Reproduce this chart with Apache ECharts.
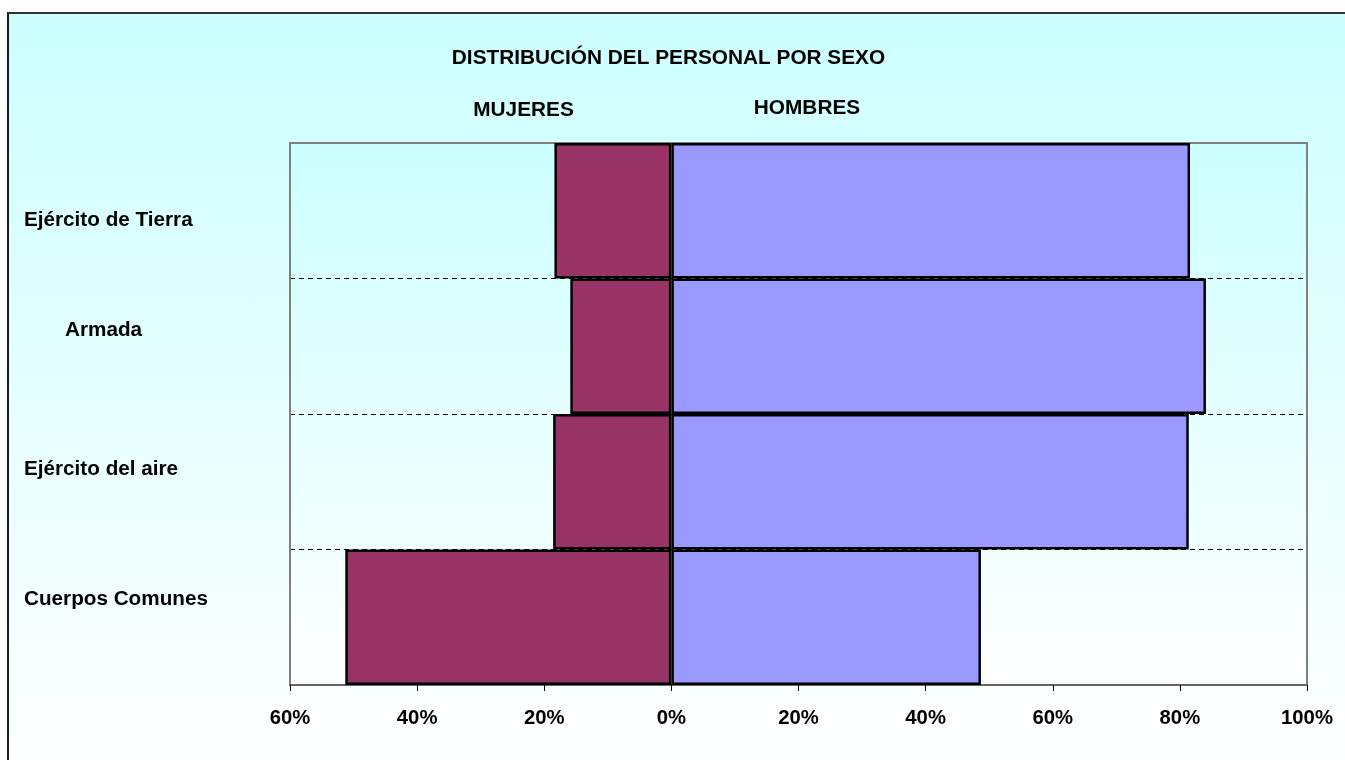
<!DOCTYPE html>
<html>
<head>
<meta charset="utf-8">
<script src="https://cdn.jsdelivr.net/npm/echarts@6/dist/echarts.min.js"></script>
<style>
  html, body { margin: 0; padding: 0; background: #ffffff; }
  #frame { position: absolute; left: 7px; top: 12px; width: 1345px; height: 760px;
           border-left: 2px solid #1a1a1a; border-top: 2px solid #333; box-sizing: border-box;
           background: linear-gradient(to bottom, #CCFFFF 0%, #E6FFFF 50%, #FFFFFF 100%); }
  #chart { position: absolute; left: 0; top: 0; width: 1345px; height: 760px; }
</style>
</head>
<body>
<div id="frame"></div>
<div id="chart"></div>
<script>
// ---- data ----
const categories = ['Ejército de Tierra', 'Armada', 'Ejército del aire', 'Cuerpos Comunes'];
const mujeres = [18.4, 15.9, 18.6, 51.3];   // % women (drawn to the left)
const hombres = [81.6, 84.1, 81.4, 48.7];   // % men
const xTicks = [-60, -40, -20, 0, 20, 40, 60, 80, 100];
const titleText = 'DISTRIBUCIÓN DEL PERSONAL POR SEXO';
const leftLabel = 'MUJERES';
const rightLabel = 'HOMBRES';

const labelStyles = ['t0', 't1', 't2', 't3'];
const FONT = '"Liberation Sans", Arial, Helvetica, sans-serif';

const chart = echarts.init(document.getElementById('chart'), null, { renderer: 'canvas' });

const richBase = { fontWeight: 'bold', fontSize: 20.7, fontFamily: FONT, color: '#000' };

const option = {
  backgroundColor: 'transparent',
  animation: false,
  textStyle: { fontFamily: FONT },
  graphic: [
    { type: 'text', x: 668.5, y: 58, style: { text: titleText, font: 'bold 20.8px ' + FONT, fill: '#000', align: 'center', verticalAlign: 'middle', textAlign: 'center', textVerticalAlign: 'middle' } },
    { type: 'text', x: 523.5, y: 110, style: { text: leftLabel, font: 'bold 20.8px ' + FONT, fill: '#000', align: 'center', verticalAlign: 'middle', textAlign: 'center', textVerticalAlign: 'middle' } },
    { type: 'text', x: 807, y: 108, style: { text: rightLabel, font: 'bold 20.8px ' + FONT, fill: '#000', align: 'center', verticalAlign: 'middle', textAlign: 'center', textVerticalAlign: 'middle' } }
  ],
  grid: {
    left: 290, right: 38, top: 143, bottom: 75,
    show: true,
    borderWidth: 0,
    backgroundColor: { type: 'linear', x: 0, y: 0, x2: 0, y2: 1,
      colorStops: [{ offset: 0, color: '#CCFFFF' }, { offset: 1, color: '#FFFFFF' }] }
  },
  xAxis: [
    {
      type: 'value', position: 'bottom',
      min: xTicks[0], max: xTicks[xTicks.length - 1], interval: 20,
      axisLine: { show: true, onZero: false, lineStyle: { color: '#666666', width: 2 } },
      axisTick: { show: true, length: 6, lineStyle: { color: '#000', width: 1 } },
      splitLine: { show: false },
      axisLabel: {
        margin: 23,
        color: '#000', fontWeight: 'bold', fontSize: 20.3, fontFamily: FONT,
        formatter: v => Math.abs(v) + '%'
      }
    },
    {
      type: 'value', position: 'top',
      min: xTicks[0], max: xTicks[xTicks.length - 1], interval: 20,
      axisLine: { show: true, onZero: false, lineStyle: { color: '#808080', width: 2 } },
      axisTick: { show: false }, axisLabel: { show: false }, splitLine: { show: false }
    }
  ],
  yAxis: [
    {
      type: 'category', position: 'left',
      inverse: true,
      data: categories,
      axisLine: { show: true, onZero: false, lineStyle: { color: '#808080', width: 2 } },
      axisTick: { show: false },
      splitLine: { show: true, interval: 0, lineStyle: { color: '#000', width: 1, type: [5, 4] } },
      axisLabel: {
        interval: 0,
        align: 'left',
        margin: 266,
        color: '#000', fontWeight: 'bold', fontSize: 20.7, fontFamily: FONT,
        formatter: (v, i) => '{' + labelStyles[i] + '|' + v + '}',
        rich: {
          t0: Object.assign({}, richBase, { padding: [20, 0, 0, 0] }),
          t1: Object.assign({}, richBase, { padding: [0, 0, 32, 41] }),
          t2: Object.assign({}, richBase, { padding: [0, 0, 24, 0] }),
          t3: Object.assign({}, richBase, { padding: [0, 0, 36, 0] })
        }
      }
    },
    {
      type: 'category', position: 'right',
      inverse: true,
      data: categories,
      axisLine: { show: true, onZero: false, lineStyle: { color: '#808080', width: 2 } },
      axisTick: { show: false }, axisLabel: { show: false }, splitLine: { show: false }
    }
  ],
  series: [
    {
      name: leftLabel, type: 'bar', stack: 'total',
      barWidth: '100%', barCategoryGap: '0%',
      data: mujeres.map(v => -v),
      itemStyle: { color: '#993366', borderColor: '#000', borderWidth: 2.5 }
    },
    {
      name: rightLabel, type: 'bar', stack: 'total',
      barWidth: '100%', barCategoryGap: '0%',
      data: hombres,
      itemStyle: { color: '#9999FF', borderColor: '#000', borderWidth: 2.5 }
    }
  ]
};
chart.setOption(option);
</script>
</body>
</html>
